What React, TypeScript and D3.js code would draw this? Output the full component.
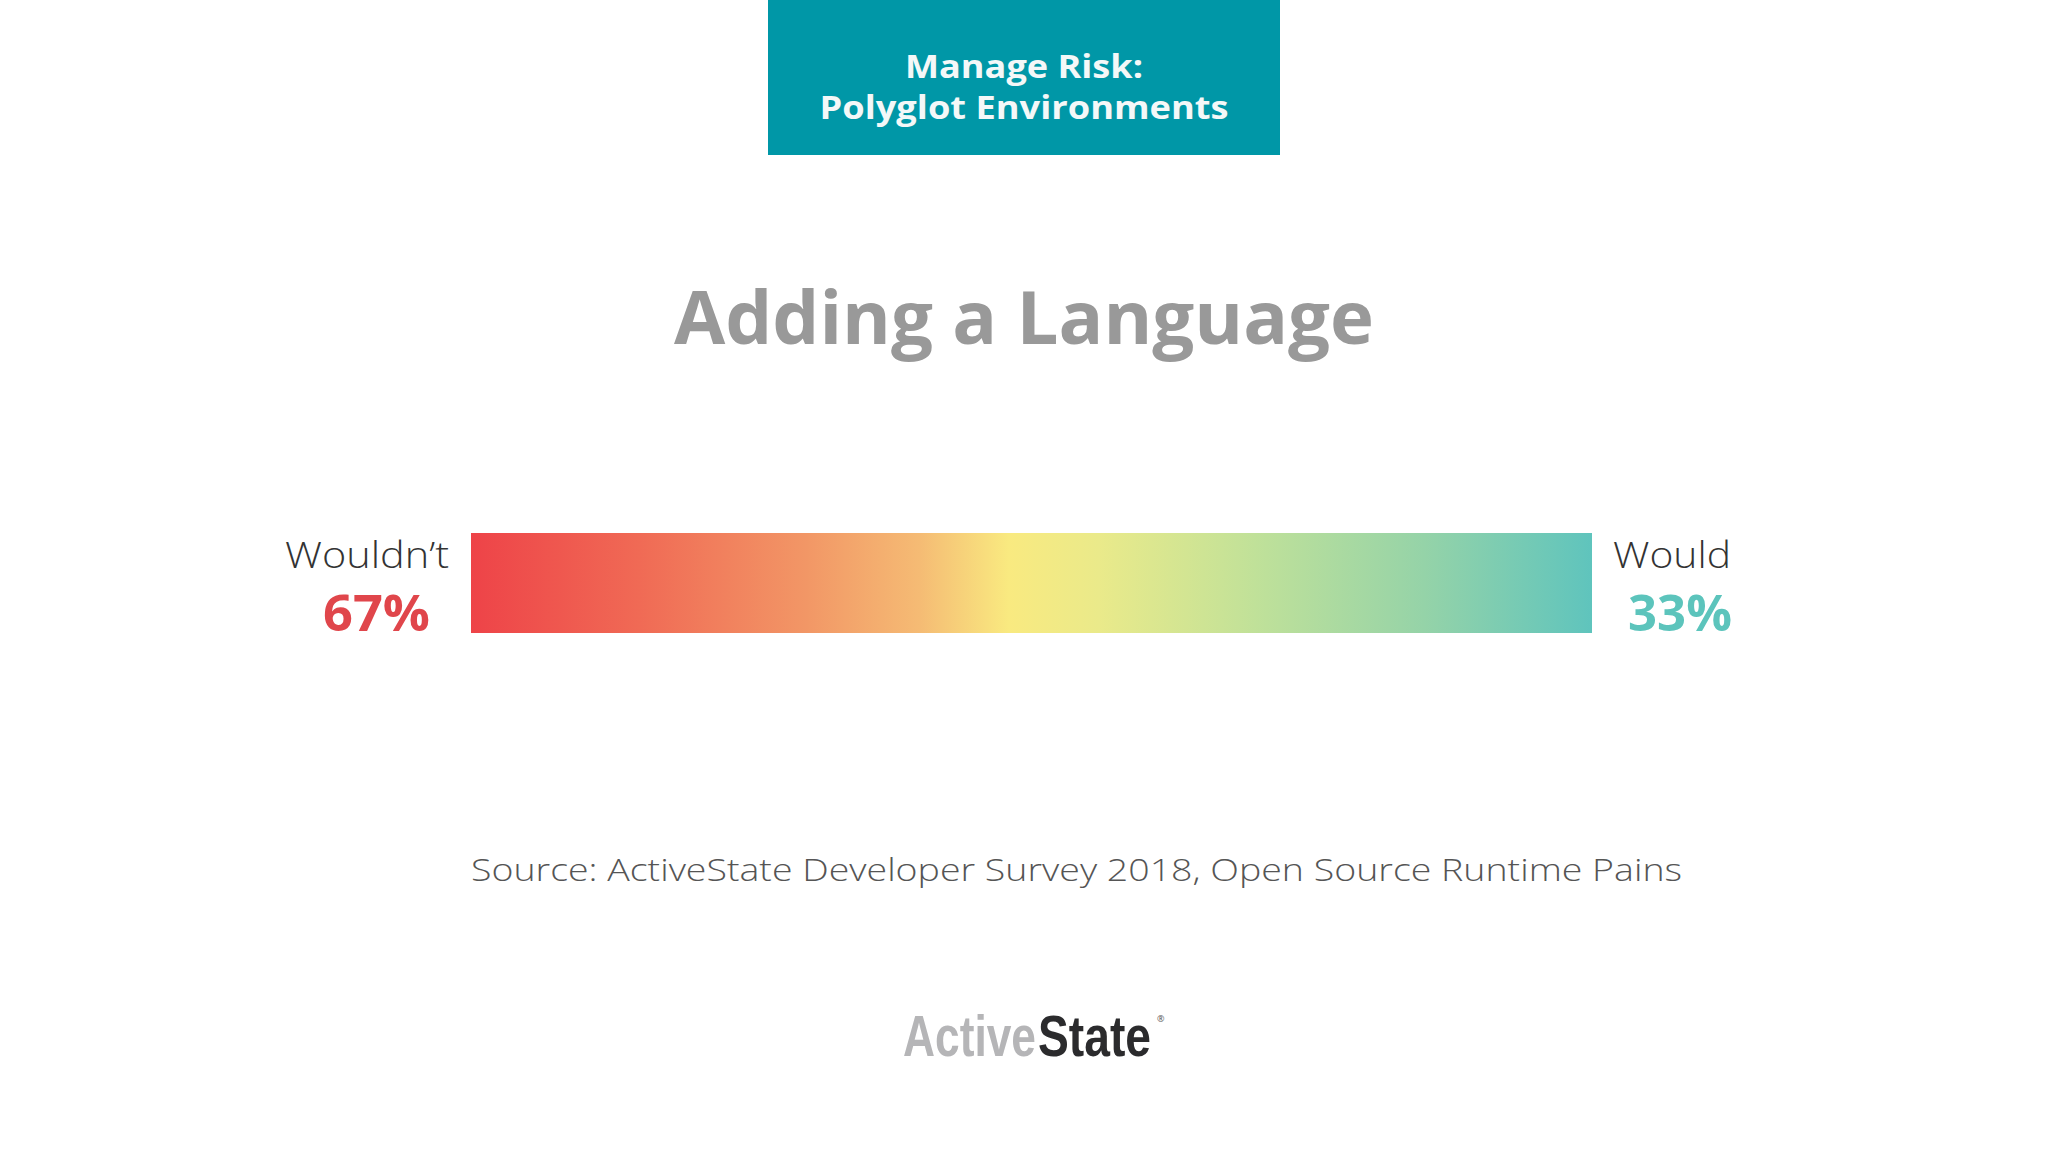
import React from "react";
import * as d3 from "d3";

const headerLines = ["Manage Risk:", "Polyglot Environments"];
const chartTitle = "Adding a Language";
const categories = ["Wouldn\u2019t", "Would"];
const values = [67, 33];
const sourceText = "Source: ActiveState Developer Survey 2018, Open Source Runtime Pains";
const logoParts = ["Active", "State"];
const gradientStops = [
  { offset: 0, color: "#ee4348" },
  { offset: 0.15, color: "#f06a55" },
  { offset: 0.3, color: "#f29766" },
  { offset: 0.4, color: "#f5bb74" },
  { offset: 0.48, color: "#f9ea80" },
  { offset: 0.56, color: "#eaea8a" },
  { offset: 0.7, color: "#c0e199" },
  { offset: 0.85, color: "#95d3a8" },
  { offset: 1, color: "#5fc4bd" },
];

const W = 2048;
const H = 1152;
const FONT = "'Open Sans', 'Noto Sans', sans-serif";
const LOGO_FONT = "'Liberation Sans Narrow', 'Liberation Sans', Arial, sans-serif";

export default function App() {
  const total = d3.sum(values);
  const x = d3.scaleLinear().domain([0, total]).range([471, 1592]);
  const barTop = 533;
  const barH = 100;

  return (
    <svg
      width={W}
      height={H}
      style={{ position: "absolute", left: 0, top: 0, background: "#ffffff" }}
    >
      <defs>
        <linearGradient id="barGrad" x1="0" x2="1" y1="0" y2="0">
          {gradientStops.map((s, i) => (
            <stop key={i} offset={s.offset} stopColor={s.color} />
          ))}
        </linearGradient>
      </defs>
      <rect x={0} y={0} width={W} height={H} fill="#ffffff" />

      {/* header box */}
      <rect x={768} y={0} width={512} height={155} fill="#0097a7" />
      <text
        x={1024}
        y={78}
        textAnchor="middle"
        fill="#f4f8f8"
        fontFamily={FONT}
        fontWeight={700}
        fontSize={33}
        textLength={238}
        lengthAdjust="spacingAndGlyphs"
      >
        {headerLines[0]}
      </text>
      <text
        x={1024}
        y={119}
        textAnchor="middle"
        fill="#f4f8f8"
        fontFamily={FONT}
        fontWeight={700}
        fontSize={33}
        textLength={409}
        lengthAdjust="spacingAndGlyphs"
      >
        {headerLines[1]}
      </text>

      {/* title */}
      <text
        x={1024}
        y={344}
        textAnchor="middle"
        fill="#999999"
        fontFamily={FONT}
        fontWeight={700}
        fontSize={74}
        textLength={700}
        lengthAdjust="spacingAndGlyphs"
      >
        {chartTitle}
      </text>

      {/* bar */}
      <rect
        x={x(0)}
        y={barTop}
        width={x(total) - x(0)}
        height={barH}
        fill="url(#barGrad)"
      />

      {/* left labels */}
      <text
        x={449}
        y={568}
        textAnchor="end"
        fill="#333333"
        fontFamily={FONT}
        fontWeight={300}
        fontSize={36}
        textLength={164}
        lengthAdjust="spacingAndGlyphs"
      >
        {categories[0]}
      </text>
      <text
        x={430}
        y={631}
        textAnchor="end"
        fill="#e0464b"
        fontFamily={FONT}
        fontWeight={700}
        fontSize={51}
        textLength={107}
        lengthAdjust="spacingAndGlyphs"
      >
        {`${values[0]}%`}
      </text>

      {/* right labels */}
      <text
        x={1613}
        y={568}
        textAnchor="start"
        fill="#333333"
        fontFamily={FONT}
        fontWeight={300}
        fontSize={36}
        textLength={118}
        lengthAdjust="spacingAndGlyphs"
      >
        {categories[1]}
      </text>
      <text
        x={1628}
        y={631}
        textAnchor="start"
        fill="#5cc4bc"
        fontFamily={FONT}
        fontWeight={700}
        fontSize={51}
        textLength={104}
        lengthAdjust="spacingAndGlyphs"
      >
        {`${values[1]}%`}
      </text>

      {/* source */}
      <text
        x={471}
        y={881}
        textAnchor="start"
        fill="#555555"
        fontFamily={FONT}
        fontWeight={300}
        fontSize={32}
        textLength={1211}
        lengthAdjust="spacingAndGlyphs"
      >
        {sourceText}
      </text>

      {/* logo */}
      <text
        x={903}
        y={1056}
        fill="#b5b5b7"
        fontFamily={LOGO_FONT}
        fontWeight={700}
        fontSize={58}
        textLength={133}
        lengthAdjust="spacingAndGlyphs"
      >
        {logoParts[0]}
      </text>
      <text
        x={1038}
        y={1056}
        fill="#2b2b2d"
        fontFamily={LOGO_FONT}
        fontWeight={700}
        fontSize={58}
        textLength={113}
        lengthAdjust="spacingAndGlyphs"
      >
        {logoParts[1]}
      </text>
      <text
        x={1157}
        y={1022}
        fill="#555"
        fontFamily={FONT}
        fontSize={9}
      >
        ®
      </text>
    </svg>
  );
}
